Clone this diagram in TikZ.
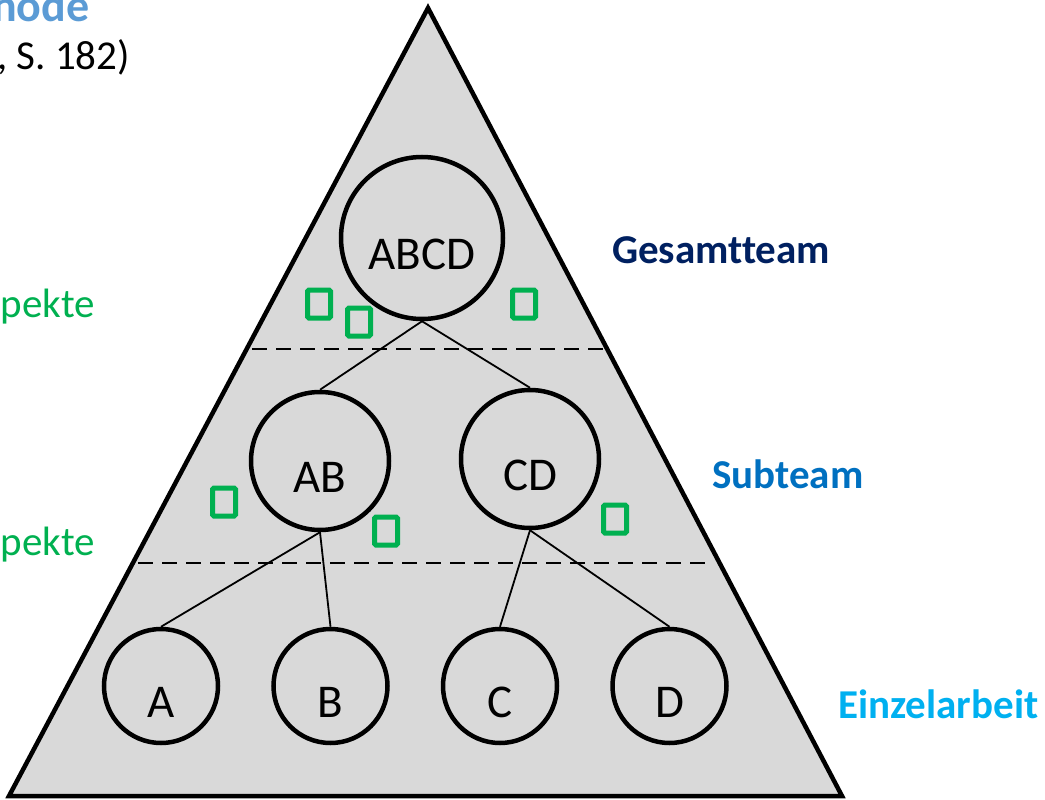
\documentclass[tikz,border=0pt]{standalone}
\usepackage{fontspec}
\setmainfont{Carlito}[Ligatures=CommonOff]
\usetikzlibrary{positioning}
\definecolor{pyramidgrey}{HTML}{D9D9D9}
\definecolor{aspektgreen}{HTML}{00B050}
\definecolor{gesamtblue}{HTML}{002060}
\definecolor{subblue}{HTML}{0070C0}
\definecolor{einzelblue}{HTML}{00B0F0}
\definecolor{titleblue}{HTML}{5B9BD5}
\newcommand{\circlefont}{\fontsize{47}{56}\selectfont}
\newcommand{\labelfont}{\fontsize{41}{49}\selectfont}
\newcommand{\titlefont}{\fontsize{46}{55}\selectfont}

\begin{document}
\begin{tikzpicture}
        [x=1pt, y=-1pt,
         team/.style={circle, draw, line width=4.5pt, font=\circlefont, text height=62pt, text depth=0pt, inner sep=0pt},
         aspekt/.style={draw=aspektgreen, line width=5pt, minimum width=23pt, minimum height=28pt, inner sep=0pt, rounded corners=1.5pt},
         level/.style={font=\labelfont\bfseries, inner sep=0pt, anchor=base west},
         side/.style={font=\labelfont, inner sep=0pt, anchor=base east}]

        \useasboundingbox (0,0) rectangle (1045,800);

        \draw [line width=4.5pt, fill=pyramidgrey] (428,8) -- (842,796) -- (9,796) -- cycle;

        \coordinate (upl) at (252,349);
        \coordinate (upr) at (604,349);
        \coordinate (lol) at (138,563);
        \coordinate (lor) at (712,563);
        \draw [line width=2pt, dash pattern=on 15pt off 9pt] (upl) -- (upr);
        \draw [line width=2pt, dash pattern=on 15pt off 9pt] (lol) -- (lor);

        \node [team, minimum size=162pt] (abcd) at (422,238) {ABCD};
        \node [team, minimum size=138pt] (ab)   at (320,461) {AB};
        \node [team, minimum size=138pt] (cd)   at (530,459) {CD};

        \node [team, minimum size=114pt] (a) at (161,686)   {A};
        \node [team, minimum size=114pt] (b) [right =51pt of a] {B};
        \node [team, minimum size=114pt] (c) [right =51pt of b] {C};
        \node [team, minimum size=114pt] (d) [right =51pt of c] {D};

        \draw [line width=1.8pt] (abcd.south) -- (ab.north);
        \draw [line width=1.8pt] (abcd.south) -- (cd.north);
        \draw [line width=1.8pt] (ab.south) -- (a.north);
        \draw [line width=1.8pt] (ab.south) -- (b.north);
        \draw [line width=1.8pt] (cd.south) -- (c.north);
        \draw [line width=1.8pt] (cd.south) -- (d.north);

        \node [aspekt] (s1) at (319,304) {};
        \node [aspekt] (s2) at (359,322) {};
        \node [aspekt] (s3) at (524,304) {};
        \node [aspekt] (s4) at (224,502) {};
        \node [aspekt] (s5) at (386,531) {};
        \node [aspekt] (s6) at (615,519) {};

        \node [level, text=gesamtblue] (gesamt) at (612,263) {Gesamtteam};
        \node [level, text=subblue]    (sub)    at (712,488) {Subteam};
        \node [level, text=einzelblue] (einzel) at (838,718) {Einzelarbeit};

        \node [level, font=\titlefont\bfseries, text=titleblue] (title) at (-8,22) {hode};
        \node [side] (quelle) at (130,70)  {, S. 182)};
        \node [side, text=aspektgreen] (asp1) at (95,317) {pekte};
        \node [side, text=aspektgreen] (asp2) at (95,555) {pekte};
        \end{tikzpicture}
\end{document}
